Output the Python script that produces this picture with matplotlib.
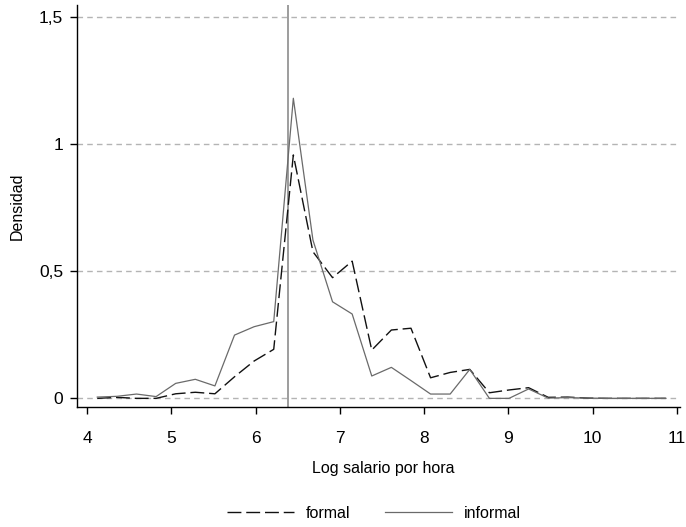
import numpy as np
import matplotlib
matplotlib.use("Agg")
import matplotlib.pyplot as plt
from matplotlib.ticker import FuncFormatter

plt.rcParams['font.family'] = ['Liberation Sans', 'DejaVu Sans']

# bin midpoints of the log hourly wage histogram
bin_start = 4.122
bin_width = 0.2326
n_bins = 30

formal = [0.000, 0.004, 0.000, 0.000, 0.018, 0.024, 0.018, 0.085, 0.147, 0.193,
          0.958, 0.577, 0.475, 0.540, 0.190, 0.269, 0.276, 0.081, 0.102, 0.114,
          0.022, 0.033, 0.042, 0.004, 0.005, 0.001, 0.000, 0.000, 0.000, 0.000]

informal = [0.005, 0.008, 0.017, 0.007, 0.059, 0.075, 0.049, 0.249, 0.282, 0.302,
            1.181, 0.623, 0.380, 0.332, 0.088, 0.122, 0.070, 0.017, 0.017, 0.114,
            0.000, 0.000, 0.037, 0.001, 0.003, 0.001, 0.000, 0.000, 0.000, 0.000]

min_wage_log = 6.385

x_ticks = [4, 5, 6, 7, 8, 9, 10, 11]
y_ticks = [0, 0.5, 1, 1.5]

x = bin_start + bin_width * np.arange(n_bins)

fig = plt.figure(figsize=(6.86, 5.27), dpi=100)
ax = fig.add_axes([0.1122, 0.2277, 0.879, 0.7628])

for yv in y_ticks:
    ax.axhline(yv, color="#b4b4b4", lw=1.0, ls=(0, (4, 3)), zorder=1)

ax.axvline(min_wage_log, color="#8c8c8c", lw=1.2, zorder=2)

ax.plot(x, formal, color="#111111", lw=1.0, ls=(0, (10, 3.5)), label="formal", zorder=3)
ax.plot(x, informal, color="#6a6a6a", lw=0.9, ls="-", label="informal", zorder=3)

ax.set_xlim(3.881, 11.035)
ax.set_ylim(-0.034, 1.548)
ax.set_xticks(x_ticks)
ax.set_yticks(y_ticks)
ax.yaxis.set_major_formatter(FuncFormatter(lambda v, p: ("%g" % v).replace(".", ",")))

for side in ["top", "right"]:
    ax.spines[side].set_visible(False)
ax.spines["left"].set_linewidth(1.0)
ax.spines["bottom"].set_linewidth(1.0)
ax.tick_params(axis="both", direction="out", length=5, width=1.0, labelsize=12.5, pad=5)
ax.tick_params(axis="x", pad=12)

ax.set_xlabel("Log salario por hora", fontsize=11.5)
ax.xaxis.set_label_coords(0.508, -0.135)
ax.set_ylabel("Densidad", fontsize=11.5, labelpad=10)

fig.legend(loc="lower center", bbox_to_anchor=(0.545, -0.016), ncol=2, frameon=False,
           fontsize=11.5, handlelength=4.2, columnspacing=2.2, handletextpad=0.7)

fig.savefig("out.png", dpi=100)
